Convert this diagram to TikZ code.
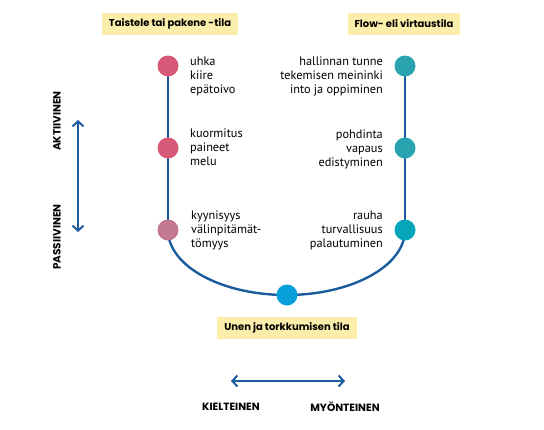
\documentclass[tikz,border=0pt]{standalone}
\usepackage{fontspec}
\setmainfont{PT Sans}
\newfontfamily\headfont{Poppins}
\usetikzlibrary{arrows.meta}
\definecolor{lineblue}{HTML}{1B5C9E}
\definecolor{pinkA}{HTML}{D65A78}
\definecolor{pinkC}{HTML}{C27890}
\definecolor{tealA}{HTML}{2AA3B0}
\definecolor{tealC}{HTML}{05A5BA}
\definecolor{cyanB}{HTML}{079FDA}
\definecolor{hdfill}{HTML}{FBEDAA}
\tikzset{
  dot/.style={circle,minimum size=21pt,inner sep=0pt},
  conn/.style={draw=lineblue,line width=2.4pt},
  lbl/.style={inner sep=0pt,font=\fontsize{12.3}{13.6}\selectfont},
  lblL/.style={lbl,align=left,anchor=north west},
  lblR/.style={lbl,align=right,anchor=north east},
  head/.style={fill=hdfill,inner xsep=7pt,minimum height=22pt,font=\headfont\bfseries\fontsize{10}{12}\selectfont},
  axis/.style={font=\headfont\bfseries\fontsize{10.5}{12}\selectfont},
  dbl/.style={draw=lineblue,line width=2pt,{Straight Barb[length=5pt,width=11pt,line width=2pt]}-{Straight Barb[length=5pt,width=11pt,line width=2pt]}}
}
\begin{document}
\begin{tikzpicture}[x=1pt,y=-1pt]
\useasboundingbox (0,0) rectangle (544,429);
% coordinates
\coordinate (l1) at (168,66);
\coordinate (l2) at (168,148);
\coordinate (l3) at (168,230);
\coordinate (r1) at (405,66);
\coordinate (r2) at (405,148);
\coordinate (r3) at (405,230);
\coordinate (b) at (287,295);
% connectors
\draw[conn] (l1) -- (l3);
\draw[conn] (r1) -- (r3);
\draw[conn] (l3) arc[start angle=180,end angle=0,x radius=118.5,y radius=65];
% dots
\node[dot,fill=pinkA] (L1) at (l1) {};
\node[dot,fill=pinkA] (L2) at (l2) {};
\node[dot,fill=pinkC] (L3) at (l3) {};
\node[dot,fill=tealA] (R1) at (r1) {};
\node[dot,fill=tealA] (R2) at (r2) {};
\node[dot,fill=tealC] (R3) at (r3) {};
\node[dot,fill=cyanB] (B) at (b) {};
% headings
\node[head] (hL) at (170,24) {Taistele tai pakene -tila};
\node[head] (hR) at (404,24) {Flow- eli virtaustila};
\node[head] (hB) at (287,328) {Unen ja torkkumisen tila};
% labels
\node[lblL] (tL1) at (190,57) {uhka\\kiire\\epätoivo};
\node[lblL] (tL2) at (190,129) {kuormitus\\paineet\\melu};
\node[lblL] (tL3) at (191,211) {kyynisyys\\välinpitämät-\\tömyys};
\node[lblR] (tR1) at (383,57) {hallinnan tunne\\tekemisen meininki\\into ja oppiminen};
\node[lblR] (tR2) at (383,130) {pohdinta\\vapaus\\edistyminen};
\node[lblR] (tR3) at (383,211) {rauha\\turvallisuus\\palautuminen};
% vertical axis
\coordinate (vT) at (78,120);
\coordinate (vB) at (78,232);
\draw[dbl] (vT) -- (vB);
\node[axis,rotate=90] (aA) at (57,121) {AKTIIVINEN};
\node[axis,rotate=90] (aP) at (57,237) {PASSIIVINEN};
% horizontal axis
\coordinate (hLft) at (231,381);
\coordinate (hRgt) at (345,381);
\draw[dbl] (hLft) -- (hRgt);
\node[axis] (kN) at (231,407) {KIELTEINEN};
\node[axis] (mN) at (345,407) {MYÖNTEINEN};
\end{tikzpicture}
\end{document}
